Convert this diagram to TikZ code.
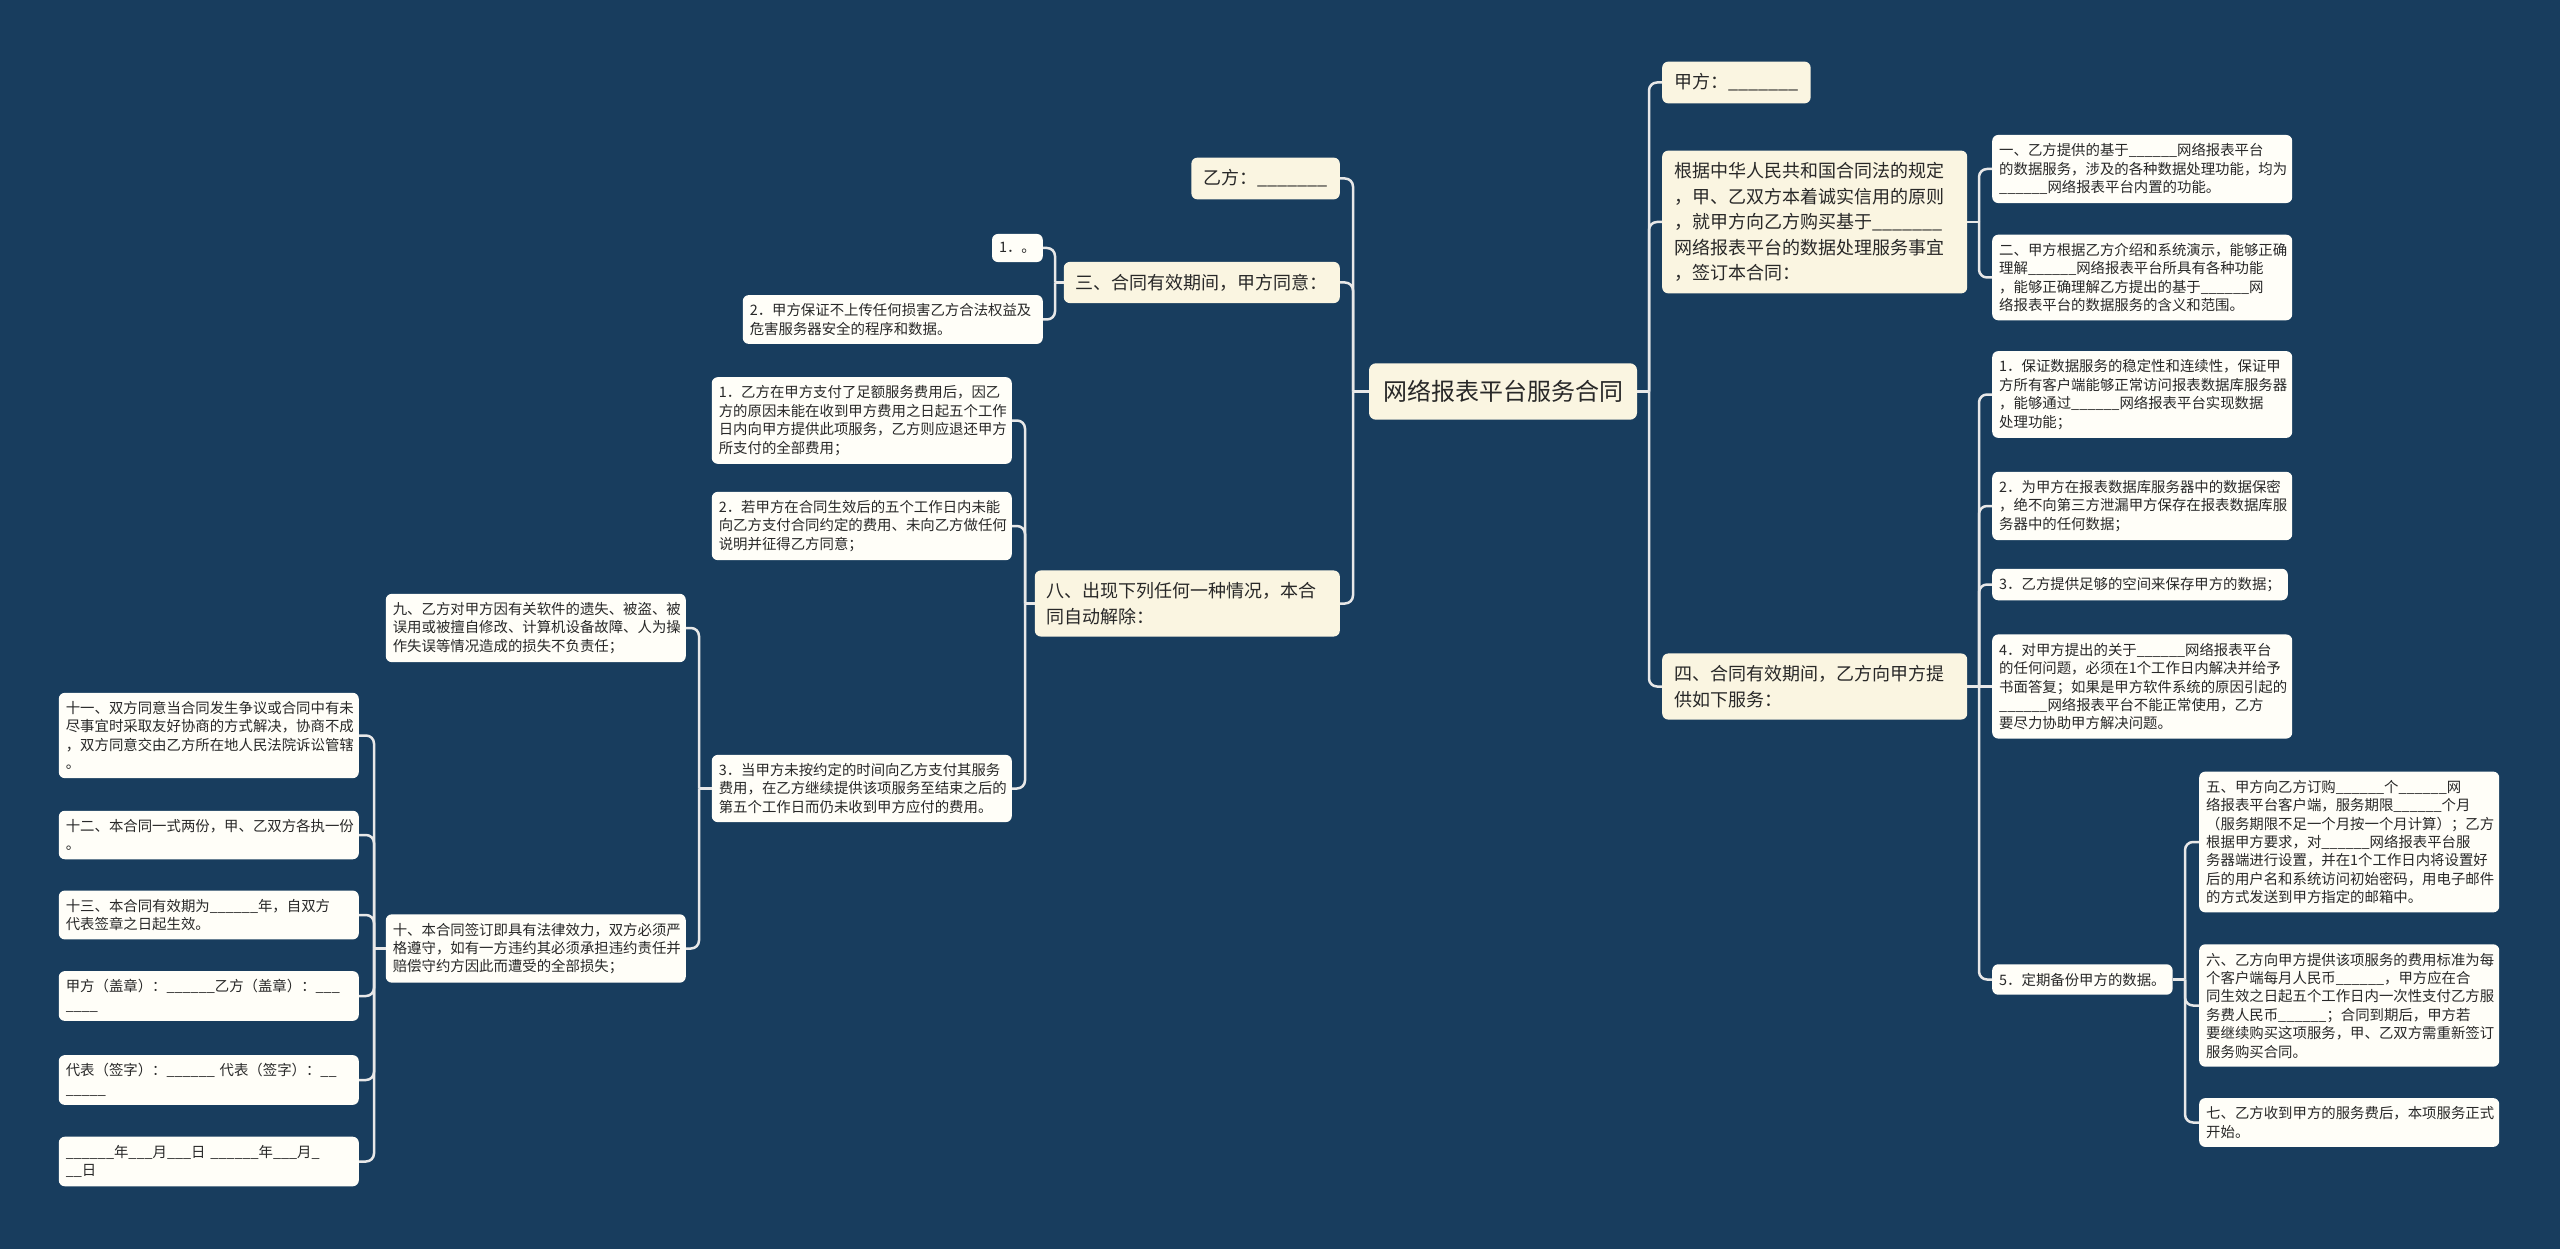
\documentclass[tikz,border=0pt]{standalone}
\usepackage{fontspec}
\newfontfamily\cjk{Noto Sans CJK SC}
\usetikzlibrary{calc}
\definecolor{bg}{RGB}{24,61,94}
\definecolor{cream}{RGB}{250,245,225}
\definecolor{paper}{RGB}{255,254,248}
\definecolor{linec}{RGB}{232,232,232}
\definecolor{txt}{RGB}{40,40,40}
\newcommand\ublank{\_\_\_\_\_\_}
\newcommand\ublankL{\_\_\_\_\_\_\_}
\tikzset{
 conn/.style={draw=linec, line width=2.5pt, rounded corners=8pt},
 rootbox/.style={fill=cream, rounded corners=7pt, text=txt, font=\cjk\fontsize{24}{30}\selectfont, inner xsep=14pt, inner ysep=17pt},
 onebox/.style={fill=cream, rounded corners=6pt, text=txt, font=\cjk\fontsize{18}{25.4}\selectfont, align=left, inner xsep=12pt, inner ysep=12pt},
 twobox/.style={fill=paper, rounded corners=6pt, text=txt, font=\cjk\fontsize{14.4}{18.4}\selectfont, align=left, inner xsep=7pt, inner ysep=8.5pt},
 onewide/.style={onebox, text width=281pt},
 twowide/.style={twobox, text width=286pt},
}
\begin{document}
\begin{tikzpicture}[x=1pt,y=-1pt]
\fill[bg] (0,0) rectangle (2560,1249);
\useasboundingbox (0,0) rectangle (2560,1249);

% root
\node[rootbox] (root) at (1503,391.5) {网络报表平台服务合同};

% right side level 1
\node[onebox, anchor=west] (jia) at (1662,82.5) {甲方：\ublankL{}};
\node[onewide, anchor=west] (genju) at (1662,222) {根据中华人民共和国合同法的规定\\，甲、乙双方本着诚实信用的原则\\，就甲方向乙方购买基于\ublankL{}\\网络报表平台的数据处理服务事宜\\，签订本合同：};
\node[onewide, anchor=west] (si) at (1662,686.5) {四、合同有效期间，乙方向甲方提\\供如下服务：};

% right level 2
\node[twowide, anchor=west] (r1) at (1992,169) {一、乙方提供的基于\ublank{}网络报表平台\\的数据服务，涉及的各种数据处理功能，均为\\\ublank{}网络报表平台内置的功能。};
\node[twowide, anchor=west] (r2) at (1992,277.5) {二、甲方根据乙方介绍和系统演示，能够正确\\理解\ublank{}网络报表平台所具有各种功能\\，能够正确理解乙方提出的基于\ublank{}网\\络报表平台的数据服务的含义和范围。};
\node[twowide, anchor=west] (s1) at (1992,394.5) {1．保证数据服务的稳定性和连续性，保证甲\\方所有客户端能够正常访问报表数据库服务器\\，能够通过\ublank{}网络报表平台实现数据\\处理功能；};
\node[twowide, anchor=west] (s2) at (1992,506) {2．为甲方在报表数据库服务器中的数据保密\\，绝不向第三方泄漏甲方保存在报表数据库服\\务器中的任何数据；};
\node[twobox, anchor=west] (s3) at (1992,584.5) {3．乙方提供足够的空间来保存甲方的数据；};
\node[twowide, anchor=west] (s4) at (1992,686.5) {4．对甲方提出的关于\ublank{}网络报表平台\\的任何问题，必须在1个工作日内解决并给予\\书面答复；如果是甲方软件系统的原因引起的\\\ublank{}网络报表平台不能正常使用，乙方\\要尽力协助甲方解决问题。};
\node[twobox, anchor=west] (s5) at (1992,979.5) {5．定期备份甲方的数据。};

% right level 3
\node[twowide, anchor=west] (w5) at (2199,842) {五、甲方向乙方订购\ublank{}个\ublank{}网\\络报表平台客户端，服务期限\ublank{}个月\\（服务期限不足一个月按一个月计算）；乙方\\根据甲方要求，对\ublank{}网络报表平台服\\务器端进行设置，并在1个工作日内将设置好\\后的用户名和系统访问初始密码，用电子邮件\\的方式发送到甲方指定的邮箱中。};
\node[twowide, anchor=west] (w6) at (2199,1005.5) {六、乙方向甲方提供该项服务的费用标准为每\\个客户端每月人民币\ublank{}，甲方应在合\\同生效之日起五个工作日内一次性支付乙方服\\务费人民币\ublank{}；合同到期后，甲方若\\要继续购买这项服务，甲、乙双方需重新签订\\服务购买合同。};
\node[twowide, anchor=west] (w7) at (2199,1122.5) {七、乙方收到甲方的服务费后，本项服务正式\\开始。};

% left level 1
\node[onebox, anchor=east] (yi) at (1340,178.5) {乙方：\ublankL{}};
\node[onebox, anchor=east] (san) at (1340,282.5) {三、合同有效期间，甲方同意：};
\node[onewide, anchor=east] (ba) at (1340,603.5) {八、出现下列任何一种情况，本合\\同自动解除：};

% left level 2
\node[twobox, anchor=east] (sa1) at (1043,248) {1．。};
\node[twowide, anchor=east] (sa2) at (1043,319.5) {2．甲方保证不上传任何损害乙方合法权益及\\危害服务器安全的程序和数据。};
\node[twowide, anchor=east] (ba1) at (1012,420.5) {1．乙方在甲方支付了足额服务费用后，因乙\\方的原因未能在收到甲方费用之日起五个工作\\日内向甲方提供此项服务，乙方则应退还甲方\\所支付的全部费用；};
\node[twowide, anchor=east] (ba2) at (1012,526) {2．若甲方在合同生效后的五个工作日内未能\\向乙方支付合同约定的费用、未向乙方做任何\\说明并征得乙方同意；};
\node[twowide, anchor=east] (ba3) at (1012,788.5) {3．当甲方未按约定的时间向乙方支付其服务\\费用，在乙方继续提供该项服务至结束之后的\\第五个工作日而仍未收到甲方应付的费用。};

% left level 3
\node[twowide, anchor=east] (jiu) at (686,628) {九、乙方对甲方因有关软件的遗失、被盗、被\\误用或被擅自修改、计算机设备故障、人为操\\作失误等情况造成的损失不负责任；};
\node[twowide, anchor=east] (shi) at (686,948.5) {十、本合同签订即具有法律效力，双方必须严\\格遵守，如有一方违约其必须承担违约责任并\\赔偿守约方因此而遭受的全部损失；};

% left level 4
\node[twowide, anchor=east] (shiyi) at (359,735.5) {十一、双方同意当合同发生争议或合同中有未\\尽事宜时采取友好协商的方式解决，协商不成\\，双方同意交由乙方所在地人民法院诉讼管辖\\。};
\node[twowide, anchor=east] (shier) at (359,835) {十二、本合同一式两份，甲、乙双方各执一份\\。};
\node[twowide, anchor=east] (shisan) at (359,915) {十三、本合同有效期为\ublank{}年，自双方\\代表签章之日起生效。};
\node[twowide, anchor=east] (gz) at (359,996) {甲方（盖章）：\ublank{}乙方（盖章）：\_\_\_\\\_\_\_\_};
\node[twowide, anchor=east] (db) at (359,1080) {代表（签字）：\ublank{}~代表（签字）：\_\_\\\_\_\_\_\_};
\node[twowide, anchor=east] (nyr) at (359,1161.5) {\ublank{}年\_\_\_月\_\_\_日~\ublank{}年\_\_\_月\_\\\_\_日};

% trunk coordinates
\coordinate (tR) at (1649,391.5);
\coordinate (tG) at (1979,222);
\coordinate (tS) at (1979,686.5);
\coordinate (t5) at (2185,979.5);
\coordinate (tL) at (1353,391.5);
\coordinate (tSan) at (1055,282.5);
\coordinate (tBa) at (1025,603.5);
\coordinate (tB3) at (699,788.5);
\coordinate (tShi) at (374,948.5);

% right connectors
\draw[conn] (root.east) -- (tR);
\foreach \n in {jia,genju,si} \draw[conn] (tR) |- (\n.west);
\draw[conn] (genju.east) -- (tG);
\foreach \n in {r1,r2} \draw[conn] (tG) |- (\n.west);
\draw[conn] (si.east) -- (tS);
\foreach \n in {s1,s2,s3,s5} \draw[conn] (tS) |- (\n.west);
\draw[conn] (tS) -- (s4.west);
\draw[conn] (s5.east) -- (t5);
\foreach \n in {w5,w6,w7} \draw[conn] (t5) |- (\n.west);

% left connectors
\draw[conn] (root.west) -- (tL);
\foreach \n in {yi,san,ba} \draw[conn] (tL) |- (\n.east);
\draw[conn] (san.west) -- (tSan);
\foreach \n in {sa1,sa2} \draw[conn] (tSan) |- (\n.east);
\draw[conn] (ba.west) -- (tBa);
\foreach \n in {ba1,ba2,ba3} \draw[conn] (tBa) |- (\n.east);
\draw[conn] (ba3.west) -- (tB3);
\foreach \n in {jiu,shi} \draw[conn] (tB3) |- (\n.east);
\draw[conn] (shi.west) -- (tShi);
\foreach \n in {shiyi,shier,shisan,gz,db,nyr} \draw[conn] (tShi) |- (\n.east);
\end{tikzpicture}
\end{document}
